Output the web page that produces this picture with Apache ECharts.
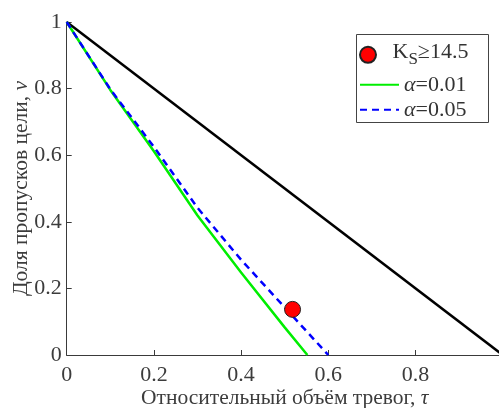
<!DOCTYPE html>
<html>
<head>
<meta charset="utf-8">
<script src="https://cdn.jsdelivr.net/npm/echarts@6/dist/echarts.min.js"></script>
<style>html,body{margin:0;padding:0;background:#fff}#c{width:499px;height:408px}</style>
</head>
<body>
<div id="c"></div>
<script>
// Data
const xTicks = [0, 0.2, 0.4, 0.6, 0.8, 1];
const yTicks = [0, 0.2, 0.4, 0.6, 0.8, 1];
const tauDiag = [0, 1];
const nuDiag = [1, 0];
const tauA001 = [0, 0.1, 0.2, 0.3, 0.4, 0.5, 0.552];
const nuA001 = [1, 0.796, 0.612, 0.419, 0.248, 0.083, 0];
const tauA005 = [0, 0.1, 0.2, 0.3, 0.4, 0.5, 0.6];
const nuA005 = [1, 0.798, 0.625, 0.442, 0.286, 0.143, 0];
const tauKs = [0.518];
const nuKs = [0.137];
const names = ['KS', 'a001', 'a005'];

const zip = (a, b) => a.map((v, i) => [v, b[i]]);
const FONT = "'Liberation Serif', 'Times New Roman', serif";
const AX = '#3a3a3a';
const TXT = '#3c3c3c';
const LEG_TXT = '#333';

const richLegend = {
  k: {fontFamily: FONT, fontSize: 22, color: LEG_TXT, verticalAlign: 'top', height: 18},
  s: {fontFamily: FONT, fontSize: 17, color: LEG_TXT, verticalAlign: 'bottom', height: 14, padding: [9, 0, 0, 0]},
  m: {fontFamily: FONT, fontSize: 22, color: LEG_TXT, verticalAlign: 'top', height: 18},
  n: {fontFamily: FONT, fontSize: 22, color: LEG_TXT},
  a: {fontFamily: FONT, fontSize: 22, fontStyle: 'italic', color: LEG_TXT}
};
function legendLabel(name) {
  if (name === 'KS') return '{k|K}{s|S}{m|≥14.5}';
  if (name === 'a001') return '{a|α}{n|=0.01}';
  return '{a|α}{n|=0.05}';
}
function makeLegend(item, top) {
  return {
    data: [item], orient: 'vertical', left: 359, top: top, padding: 0,
    itemWidth: 39, itemHeight: 16, z: 10,
    textStyle: {fontFamily: FONT, fontSize: 22, color: LEG_TXT, rich: richLegend},
    formatter: legendLabel, selectedMode: false
  };
}

const chart = echarts.init(document.getElementById('c'), null, {renderer: 'canvas'});
chart.setOption({
  animation: false,
  backgroundColor: '#fff',
  textStyle: {fontFamily: FONT},
  grid: {left: 66.7, right: -3.7, top: 22, bottom: 53, containLabel: false, outerBoundsMode: 'none'},
  xAxis: {
    type: 'value', min: xTicks[0], max: xTicks[xTicks.length - 1], interval: 0.2,
    axisLine: {show: true, lineStyle: {color: AX, width: 1}},
    axisTick: {show: true, inside: true, length: 5, lineStyle: {color: AX}},
    splitLine: {show: false},
    axisLabel: {fontFamily: FONT, fontSize: 22, color: TXT, margin: 9, showMaxLabel: false,
      formatter: v => String(+v.toFixed(1))},
    name: '{n|Относительный объём тревог, }{t|τ}',
    nameLocation: 'middle', nameGap: 32, nameMoveOverlap: false,
    nameTextStyle: {fontFamily: FONT, fontSize: 21.5, color: TXT,
      rich: {n: {fontFamily: FONT, fontSize: 21.5, color: TXT},
             t: {fontFamily: FONT, fontSize: 21.5, fontStyle: 'italic', color: TXT}}}
  },
  yAxis: {
    type: 'value', min: yTicks[0], max: yTicks[yTicks.length - 1], interval: 0.2,
    axisLine: {show: true, lineStyle: {color: AX, width: 1}},
    axisTick: {show: true, inside: true, length: 5, lineStyle: {color: AX}},
    splitLine: {show: false},
    axisLabel: {fontFamily: FONT, fontSize: 22, color: TXT, margin: 5,
      formatter: v => String(+v.toFixed(1))},
    name: '{n|Доля пропусков цели, }{t|ν}',
    nameLocation: 'middle', nameGap: 34, nameMoveOverlap: false,
    nameTextStyle: {fontFamily: FONT, fontSize: 21.5, color: TXT,
      rich: {n: {fontFamily: FONT, fontSize: 21.5, color: TXT},
             t: {fontFamily: FONT, fontSize: 21.5, fontStyle: 'italic', color: TXT}}}
  },
  graphic: [{
    type: 'rect', z: 5, silent: true,
    shape: {x: 356.5, y: 34.5, width: 132, height: 88},
    style: {fill: '#fff', stroke: '#444', lineWidth: 1}
  }],
  legend: [
    makeLegend({name: names[0]}, 41.3),
    makeLegend({name: names[1], itemStyle: {opacity: 0}}, 73.8),
    makeLegend({name: names[2], itemStyle: {opacity: 0}}, 98.8)
  ],
  series: [
    {name: 'diag', type: 'line', data: zip(tauDiag, nuDiag), symbol: 'none',
     lineStyle: {color: '#000', width: 2.5}, z: 2},
    {name: 'a001', type: 'line', data: zip(tauA001, nuA001), symbol: 'none',
     itemStyle: {color: '#00ee00'},
     lineStyle: {color: '#00ee00', width: 2.5}, z: 3},
    {name: 'a005', type: 'line', data: zip(tauA005, nuA005), symbol: 'none',
     itemStyle: {color: '#0000ff'},
     lineStyle: {color: '#0000ff', width: 2.5, type: [7, 5]}, z: 4},
    {name: 'KS', type: 'scatter', data: zip(tauKs, nuKs), symbol: 'circle', symbolSize: 16,
     itemStyle: {color: '#ff0000', borderColor: '#222', borderWidth: 1, opacity: 1}, z: 5}
  ]
});
</script>
</body>
</html>
